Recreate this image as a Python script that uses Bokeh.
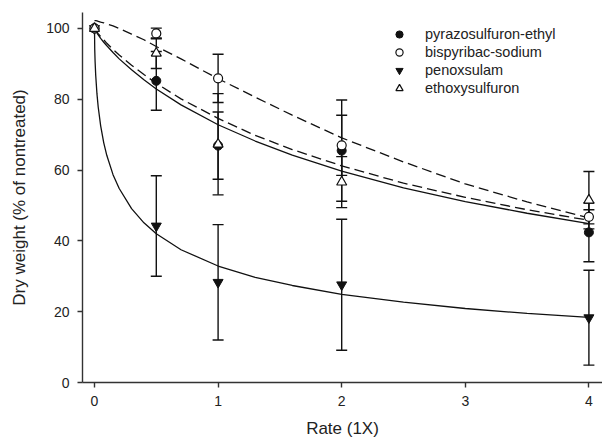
from bokeh.plotting import figure
from bokeh.models import (ColumnDataSource, Whisker, TeeHead, FixedTicker,
                          Legend, LegendItem, Range1d)
from bokeh.embed import file_html
from bokeh.resources import INLINE

# ---- data ----
rates = [0, 0.5, 1, 2, 4]

pyrazo_mean = [100, 85.2, 66.9, 65.5, 42.4]
pyrazo_se = [0, 8.3, 9.5, 14.3, 8.3]
bispy_mean = [100, 98.6, 85.9, 67.0, 46.8]
bispy_se = [0, 1.5, 6.8, 8.5, 2.0]
penox_mean = [100, 44.2, 28.3, 27.6, 18.3]
penox_se = [0, 14.2, 16.3, 18.5, 13.4]
ethoxy_mean = [100, 93.0, 67.3, 56.6, 51.5]
ethoxy_se = [0, 4.3, 14.3, 7.2, 8.1]

# fitted curves
curve_x = [0, 0.002, 0.005, 0.01, 0.02, 0.03, 0.05, 0.075, 0.1, 0.15, 0.2, 0.3,
           0.4, 0.5, 0.7, 1.0, 1.3, 1.6, 2.0, 2.5, 3.0, 3.5, 4.0]
pyrazo_curve = [100, 99.8, 99.6, 99.3, 98.7, 98.2, 97.2, 96.1, 95.1, 93.2, 91.4,
                88.3, 85.5, 82.9, 78.4, 72.8, 68.2, 64.2, 59.7, 55.0, 51.1, 47.8, 44.9]
bispy_curve = [102.2, 102.2, 102.2, 102.2, 102.1, 102.0, 101.8, 101.6, 101.3, 100.7,
               100.0, 98.4, 96.8, 94.9, 91.4, 85.8, 80.6, 75.5, 69.1, 62.3, 56.1, 51.0, 46.5]
penox_curve = [100, 94.1, 90.6, 86.7, 81.5, 77.8, 72.5, 67.7, 64.1, 58.7, 54.8, 49.1,
               45.1, 42.0, 37.5, 32.9, 29.7, 27.4, 24.9, 22.7, 20.9, 19.5, 18.4]
ethoxy_curve = [100, 99.85, 99.7, 99.45, 99.0, 98.55, 97.7, 96.8, 95.8, 94.1, 92.5,
                89.6, 87.0, 84.5, 80.1, 74.6, 69.8, 65.8, 61.2, 56.3, 52.3, 48.8, 45.8]

names = ["pyrazosulfuron-ethyl", "bispyribac-sodium", "penoxsulam", "ethoxysulfuron"]
x_ticks = [0, 1, 2, 3, 4]
y_ticks = [0, 20, 40, 60, 80, 100]

FONT = "Liberation Sans"
INK = "#111111"
TXT = "#222222"

p = figure(width=602, height=442,
           x_range=Range1d(-0.097, 4.11), y_range=Range1d(0, 104.5),
           output_backend="svg", toolbar_location=None,
           min_border_left=82, min_border_right=0, min_border_top=12,
           min_border_bottom=60)
p.outline_line_color = None
p.xgrid.visible = False
p.ygrid.visible = False
p.background_fill_color = "white"
p.border_fill_color = "white"

# curves
p.line(curve_x, pyrazo_curve, line_color=INK, line_width=1.3)
p.line(curve_x, penox_curve, line_color=INK, line_width=1.3)
p.line(curve_x, ethoxy_curve, line_color=INK, line_width=1.3, line_dash="10 5")
p.line(curve_x, bispy_curve, line_color=INK, line_width=1.3, line_dash="10 5")

# error bars
def add_err(means, ses):
    xs, up, lo = [], [], []
    for x, m, s in zip(rates, means, ses):
        if s > 0:
            xs.append(x)
            up.append(m + s)
            lo.append(m - s)
    src = ColumnDataSource(dict(x=xs, upper=up, lower=lo))
    w = Whisker(base="x", upper="upper", lower="lower", source=src,
                line_color=INK, line_width=1.4,
                upper_head=TeeHead(size=11, line_color=INK, line_width=1.4),
                lower_head=TeeHead(size=11, line_color=INK, line_width=1.4))
    p.add_layout(w)

add_err(pyrazo_mean, pyrazo_se)
add_err(penox_mean, penox_se)
add_err(ethoxy_mean, ethoxy_se)
add_err(bispy_mean, bispy_se)

# markers
r_pyr = p.scatter(rates, pyrazo_mean, marker="circle", size=9,
                  fill_color=INK, line_color=INK)
r_pen = p.scatter(rates, penox_mean, marker="inverted_triangle", size=10,
                  fill_color=INK, line_color=INK)
r_bis = p.scatter(rates, bispy_mean, marker="circle", size=9,
                  fill_color="white", line_color=INK, line_width=1.2)
r_eth = p.scatter(rates, ethoxy_mean, marker="triangle", size=10,
                  fill_color="white", line_color=INK, line_width=1.2)

legend = Legend(items=[LegendItem(label=names[0], renderers=[r_pyr]),
                       LegendItem(label=names[1], renderers=[r_bis]),
                       LegendItem(label=names[2], renderers=[r_pen]),
                       LegendItem(label=names[3], renderers=[r_eth])],
                location=(307, 285), padding=0, margin=0, spacing=0,
                glyph_width=20, glyph_height=18, label_height=18,
                label_standoff=16, border_line_alpha=0,
                background_fill_alpha=0,
                label_text_font=FONT, label_text_font_size="14.5px",
                label_text_color=TXT)
p.add_layout(legend)

# axes
for ax in (p.xaxis[0], p.yaxis[0]):
    ax.axis_line_color = "#333333"
    ax.axis_line_width = 1.4
    ax.major_tick_line_color = "#333333"
    ax.major_tick_line_width = 1.4
    ax.major_tick_out = 5
    ax.major_tick_in = 0
    ax.minor_tick_line_color = None
    ax.major_label_text_font = FONT
    ax.major_label_text_font_size = "14px"
    ax.major_label_text_color = TXT
    ax.major_label_standoff = 8
    ax.axis_label_text_font = FONT
    ax.axis_label_text_font_size = "17px"
    ax.axis_label_text_font_style = "normal"
    ax.axis_label_text_color = TXT

p.xaxis.ticker = FixedTicker(ticks=x_ticks)
p.yaxis.ticker = FixedTicker(ticks=y_ticks)
p.xaxis.axis_label = "Rate (1X)"
p.yaxis.axis_label = "Dry weight (% of nontreated)"
p.xaxis.axis_label_standoff = 10
p.yaxis.axis_label_standoff = 14

open("out.html", "w").write(file_html(p, INLINE))
